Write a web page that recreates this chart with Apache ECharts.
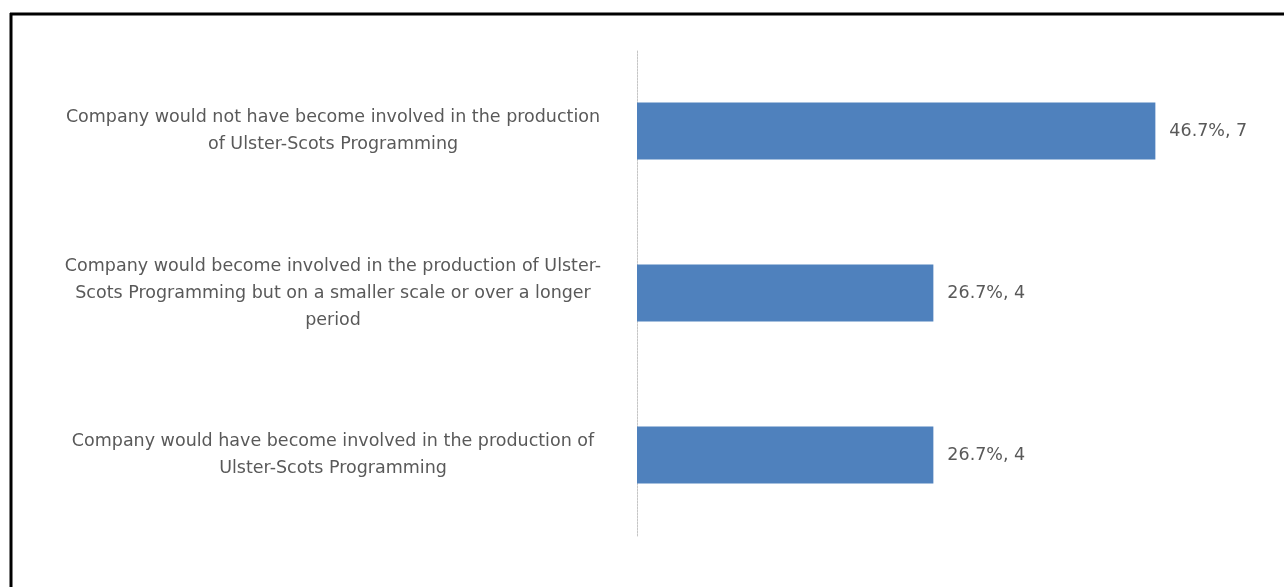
<!DOCTYPE html>
<html>
<head>
<meta charset="utf-8">
<script src="https://cdn.jsdelivr.net/npm/echarts@6/dist/echarts.min.js"></script>
<style>
  html, body { margin: 0; padding: 0; background: #ffffff; }
  #chart { width: 1284px; height: 587px; }
</style>
</head>
<body>
<div id="chart"></div>
<script>
// Responses, listed bottom-to-top as the category axis draws them
const categories = [
  'Company would have become involved in the production of\nUlster-Scots Programming',
  'Company would become involved in the production of Ulster-\nScots Programming but on a smaller scale or over a longer\nperiod',
  'Company would not have become involved in the production\nof Ulster-Scots Programming'
];
const percentages = [26.7, 26.7, 46.7];
const counts = [4, 4, 7];

const chart = echarts.init(document.getElementById('chart'));

chart.setOption({
  backgroundColor: '#ffffff',
  animation: false,
  textStyle: { fontFamily: '"DejaVu Sans", sans-serif' },
  graphic: [
    // frame along the top and left edges
    { type: 'line', shape: { x1: 10, y1: 14, x2: 1284, y2: 14 }, style: { stroke: '#000', lineWidth: 3 } },
    { type: 'line', shape: { x1: 11, y1: 13, x2: 11, y2: 587 }, style: { stroke: '#000', lineWidth: 3 } }
  ],
  grid: { left: 637, top: 50, width: 555, height: 486 },
  xAxis: {
    type: 'value',
    min: 0,
    max: 50,
    show: false
  },
  yAxis: {
    type: 'category',
    data: categories,
    axisTick: { show: false },
    axisLine: { lineStyle: { color: '#c6c6c6', width: 1, type: [2, 1] } },
    axisLabel: {
      color: '#595959',
      fontSize: 17.5,
      lineHeight: 27,
      align: 'center',
      margin: 304
    }
  },
  series: [{
    type: 'bar',
    data: percentages,
    barWidth: 57,
    itemStyle: { color: '#4f81bd' },
    label: {
      show: true,
      position: 'right',
      distance: 14,
      color: '#595959',
      fontSize: 17.5,
      formatter: p => p.value.toFixed(1) + '%, ' + counts[p.dataIndex]
    }
  }]
});
</script>
</body>
</html>
